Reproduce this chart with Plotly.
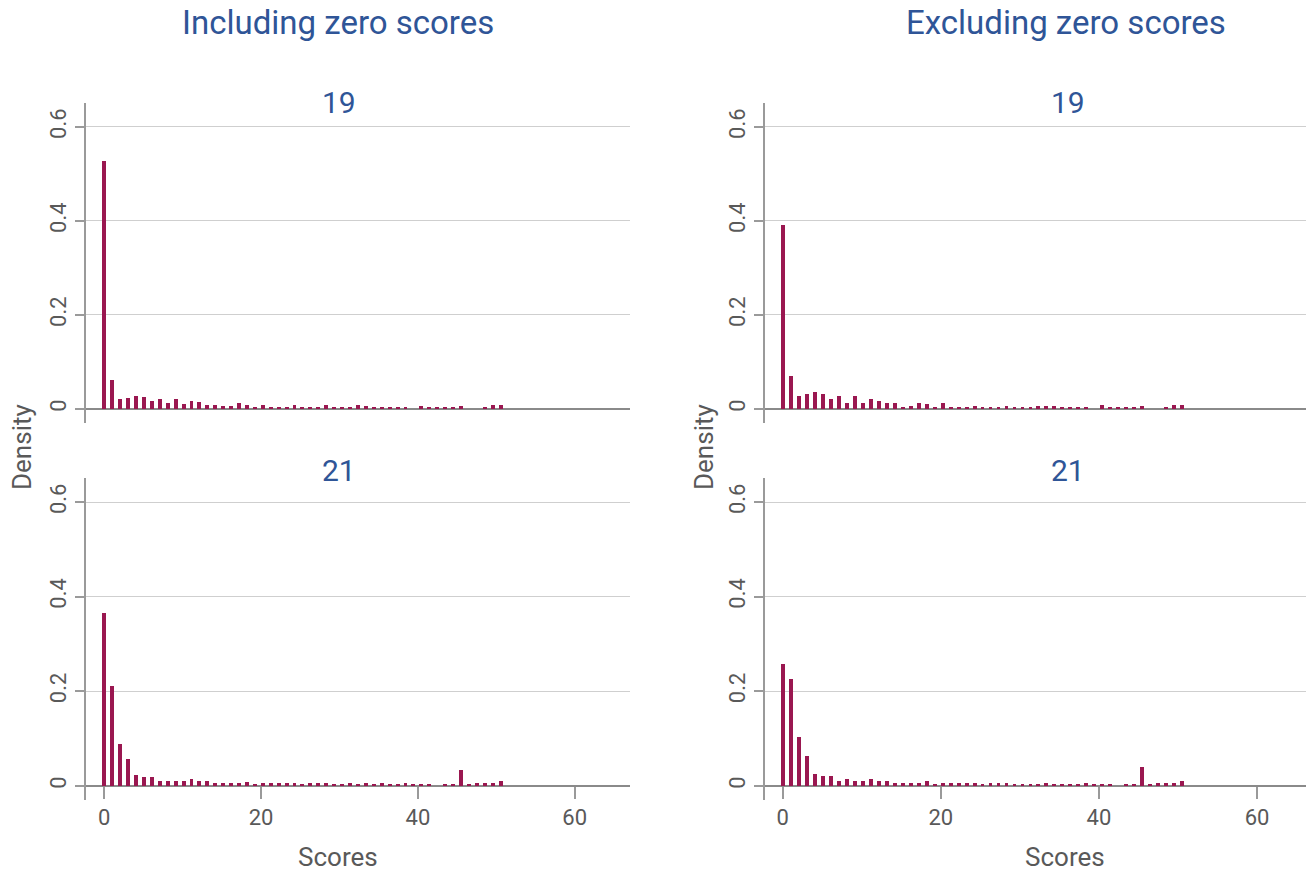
import numpy as np
import plotly.graph_objects as go

# ---------------- data ----------------
scores = list(range(51))
bin_width = 1.011  # histogram bin spacing in score units

inc_19 = [0.527, 0.062, 0.021, 0.023, 0.027, 0.026, 0.017, 0.022, 0.013, 0.021,
          0.010, 0.017, 0.014, 0.0085, 0.0085, 0.0057, 0.0071, 0.013, 0.0085, 0.0043,
          0.0085, 0.0043, 0.0043, 0.002, 0.0085, 0.0043, 0.002, 0.0043, 0.0085, 0.0043,
          0.0043, 0.0043, 0.0085, 0.0057, 0.0043, 0.0043, 0.0043, 0.0043, 0.0043, 0.0,
          0.0071, 0.003, 0.0043, 0.003, 0.0043, 0.0071, 0.0, 0.0, 0.0043, 0.0085,
          0.0085]
exc_19 = [0.392, 0.0695, 0.0277, 0.0312, 0.036, 0.0326, 0.022, 0.0277, 0.012, 0.0277,
          0.012, 0.0206, 0.017, 0.012, 0.012, 0.005, 0.007, 0.0135, 0.0106, 0.0035,
          0.012, 0.0035, 0.0035, 0.002, 0.007, 0.0035, 0.002, 0.0035, 0.007, 0.0035,
          0.0035, 0.0035, 0.007, 0.0057, 0.0057, 0.0035, 0.0035, 0.002, 0.0035, 0.0,
          0.0085, 0.002, 0.005, 0.002, 0.005, 0.0057, 0.0, 0.0, 0.0035, 0.0078,
          0.0078]
inc_21 = [0.366, 0.2116, 0.089, 0.0574, 0.0224, 0.018, 0.018, 0.0098, 0.011, 0.0098,
          0.0098, 0.0147, 0.0098, 0.0098, 0.007, 0.007, 0.007, 0.007, 0.0084, 0.0035,
          0.007, 0.007, 0.007, 0.007, 0.0056, 0.0035, 0.0056, 0.0056, 0.0056, 0.0035,
          0.0035, 0.0056, 0.0035, 0.007, 0.0035, 0.007, 0.0035, 0.0035, 0.007, 0.004,
          0.004, 0.004, 0.0, 0.004, 0.004, 0.0336, 0.004, 0.007, 0.007, 0.007,
          0.0105]
exc_21 = [0.257, 0.2267, 0.103, 0.0625, 0.0246, 0.021, 0.021, 0.0098, 0.0147, 0.0098,
          0.0098, 0.0147, 0.0098, 0.0098, 0.007, 0.007, 0.007, 0.007, 0.0105, 0.002,
          0.007, 0.007, 0.0056, 0.007, 0.0056, 0.002, 0.0056, 0.0056, 0.007, 0.003,
          0.003, 0.0035, 0.0035, 0.0063, 0.003, 0.004, 0.003, 0.003, 0.005, 0.003,
          0.003, 0.003, 0.0, 0.003, 0.003, 0.039, 0.002, 0.005, 0.005, 0.005,
          0.0105]

column_titles = ["Including zero scores", "Excluding zero scores"]
panel_titles = ["19", "21"]
x_ticks = [0, 20, 40, 60]
y_ticks = [0, 0.2, 0.4, 0.6]
y_tick_text = ["0", "0.2", "0.4", "0.6"]
x_title = "Scores"
y_title = "Density"

# ---------------- styling ----------------
W, H = 1314, 871
OFF = 8  # page body margin in the browser
BAR_COLOR = "#9a1750"
BLUE = "#2f5597"
GRAY_TXT = "#595959"
AXIS_COL = "#9a9a9a"
GRID_COL = "#cfcfcf"
ZERO_COL = "#8a8a8a"
FONT = "Roboto"

def px_x(p):
    return (p - OFF) / W

def px_y(p):
    return 1 - (p - OFF) / H

x_dom = [[px_x(86), px_x(630)], [px_x(765), px_x(1310)]]
y_dom = [[px_y(423), px_y(103)], [px_y(800), px_y(478)]]
x_ranges = [[-2.33, 67.05], [-2.24, 66.7]]
y_range = [-0.03, 0.651]

centers = np.array(scores) * bin_width
panels = [(0, 0, inc_19), (1, 0, exc_19), (0, 1, inc_21), (1, 1, exc_21)]

fig = go.Figure()
layout = dict(
    width=W, height=H,
    paper_bgcolor="white", plot_bgcolor="white",
    margin=dict(l=0, r=0, t=0, b=0),
    showlegend=False,
    bargap=0,
    font=dict(family=FONT, color=GRAY_TXT, size=22),
)

annotations = []
for i, (col, row, vals) in enumerate(panels):
    n = i + 1
    xa = "x" if n == 1 else f"x{n}"
    ya = "y" if n == 1 else f"y{n}"
    fig.add_trace(go.Bar(
        x=centers, y=vals, width=0.5,
        marker=dict(color=BAR_COLOR, line=dict(width=0)),
        xaxis=xa, yaxis=ya, hoverinfo="x+y",
    ))
    y0p = y_dom[row][0] + (0 - y_range[0]) / (y_range[1] - y_range[0]) * (y_dom[row][1] - y_dom[row][0])
    bottom = row == 1
    layout["xaxis" if n == 1 else f"xaxis{n}"] = dict(
        domain=x_dom[col], range=x_ranges[col],
        anchor="free", position=y0p,
        showgrid=False, zeroline=False, showline=False,
        tickmode="array", tickvals=x_ticks,
        ticks="outside" if bottom else "", ticklen=12, tickwidth=1.5, tickcolor=AXIS_COL,
        showticklabels=bottom,
        tickfont=dict(size=22, color=GRAY_TXT, family=FONT),
    )
    layout["yaxis" if n == 1 else f"yaxis{n}"] = dict(
        domain=y_dom[row], range=y_range, anchor=xa,
        showgrid=True, gridcolor=GRID_COL, gridwidth=1.2,
        zeroline=True, zerolinecolor=ZERO_COL, zerolinewidth=1.6,
        showline=True, linecolor=AXIS_COL, linewidth=1.5,
        ticks="outside", ticklen=9, tickwidth=1.5, tickcolor=AXIS_COL,
        tickmode="array", tickvals=y_ticks, ticktext=y_tick_text,
        tickangle=-90,
        tickfont=dict(size=22, color=GRAY_TXT, family=FONT),
    )

for col, t in enumerate(column_titles):
    annotations.append(dict(text=t, x=[px_x(338), px_x(1066)][col], y=px_y(22),
                            xref="paper", yref="paper", showarrow=False,
                            xanchor="center", yanchor="middle",
                            font=dict(size=33, color=BLUE, family=FONT)))
    for row, pt in enumerate(panel_titles):
        annotations.append(dict(text=pt, x=[px_x(339), px_x(1068)][col],
                                y=[px_y(103), px_y(470)][row],
                                xref="paper", yref="paper", showarrow=False,
                                xanchor="center", yanchor="middle",
                                font=dict(size=30, color=BLUE, family=FONT)))
    annotations.append(dict(text=x_title, x=[px_x(338), px_x(1065)][col], y=px_y(857),
                            xref="paper", yref="paper", showarrow=False,
                            xanchor="center", yanchor="middle",
                            font=dict(size=26, color=GRAY_TXT, family=FONT)))
    annotations.append(dict(text=y_title, x=[px_x(22), px_x(704)][col], y=px_y(447),
                            xref="paper", yref="paper", showarrow=False,
                            textangle=-90, xanchor="center", yanchor="middle",
                            font=dict(size=26, color=GRAY_TXT, family=FONT)))

layout["annotations"] = annotations
fig.update_layout(**layout)
fig.write_html("out.html")
